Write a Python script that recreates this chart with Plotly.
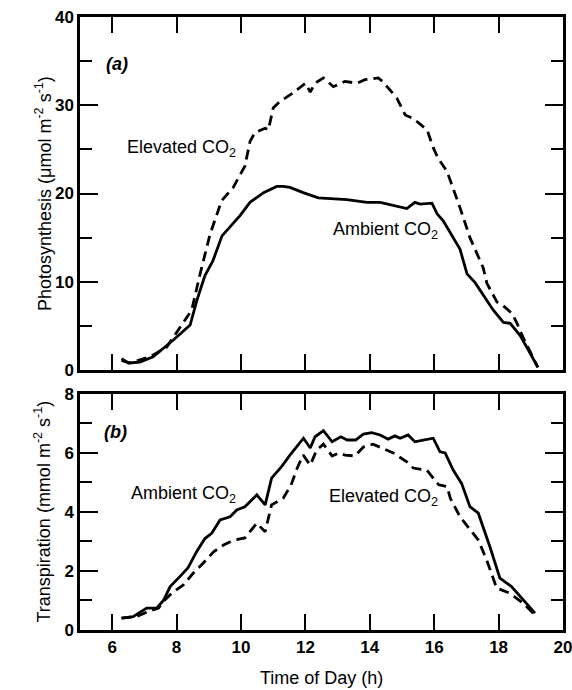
import plotly.graph_objects as go

# panel (a): photosynthesis, umol m-2 s-1
photo_amb_t = [6.29, 6.5, 6.86, 7.27, 7.9, 8.42, 8.63, 8.88, 9.13, 9.41, 9.97, 10.28,
               10.7, 11.11, 11.31, 11.52, 11.93, 12.4, 13.29, 13.91, 14.32, 15.15,
               15.4, 15.56, 15.93, 16.09, 16.28, 16.8, 17.02, 17.27, 17.83, 18.15,
               18.36, 18.67, 18.98, 19.22]
photo_amb = [1.3, 0.8, 0.9, 1.5, 3.4, 5.1, 7.9, 10.7, 12.4, 15.2, 17.5, 19.0,
             20.1, 20.8, 20.8, 20.7, 20.1, 19.5, 19.3, 19.0, 19.0, 18.3,
             19.0, 18.8, 18.9, 17.7, 16.9, 13.7, 10.9, 9.9, 6.8, 5.4,
             5.3, 3.9, 1.9, 0.3]

photo_elev_t = [6.29, 6.55, 7.17, 7.69, 8.47, 8.73, 9.04, 9.4, 9.76, 10.12, 10.28, 10.43,
                10.75, 10.85, 11.0, 11.2, 11.62, 12.0, 12.15, 12.3, 12.56, 12.87,
                13.23, 13.6, 13.85, 14.26, 14.4, 14.84, 15.1, 15.35, 15.78, 15.97,
                16.12, 16.4, 16.8, 17.11, 17.52, 17.64, 17.95, 18.14, 18.42, 18.57,
                18.76, 19.07, 19.22]
photo_elev = [1.1, 0.8, 1.5, 2.6, 6.8, 10.9, 15.4, 19.2, 20.7, 23.1, 25.9, 26.9,
              27.4, 27.2, 29.7, 30.4, 31.4, 32.5, 31.5, 32.5, 33.1, 32.1,
              32.7, 32.5, 32.9, 33.1, 32.7, 30.8, 28.9, 28.5, 27.2, 25.2,
              24.0, 22.5, 18.4, 15.0, 11.6, 9.8, 7.7, 7.3, 6.4, 5.3,
              3.7, 1.5, 0.3]

# panel (b): transpiration, mmol m-2 s-1
trans_amb_t = [6.29, 6.65, 7.07, 7.38, 7.59, 7.8, 8.1, 8.35, 8.62, 8.88, 9.09, 9.35,
               9.66, 9.87, 10.12, 10.49, 10.75, 10.95, 11.26, 11.52, 11.94, 12.15,
               12.3, 12.56, 12.83, 13.1, 13.3, 13.56, 13.8, 14.06, 14.32, 14.57,
               14.78, 14.94, 15.19, 15.4, 15.66, 15.97, 16.18, 16.34, 16.59, 16.85,
               17.11, 17.37, 17.73, 18.04, 18.4, 18.76, 19.13]
trans_amb = [0.40, 0.45, 0.74, 0.74, 1.0, 1.47, 1.81, 2.1, 2.65, 3.1, 3.28, 3.73,
             3.84, 4.07, 4.18, 4.58, 4.24, 5.15, 5.54, 5.93, 6.5, 6.17,
             6.55, 6.76, 6.38, 6.55, 6.44, 6.44, 6.64, 6.69, 6.61, 6.47,
             6.58, 6.5, 6.61, 6.38, 6.44, 6.5, 6.04, 6.0, 5.42, 4.97,
             4.18, 3.96, 2.82, 1.76, 1.47, 1.02, 0.57]

trans_elev_t = [6.29, 6.75, 7.11, 7.44, 7.58, 7.85, 8.21, 8.52, 8.83, 9.15, 9.46, 9.77,
                10.12, 10.49, 10.75, 10.95, 11.31, 11.55, 11.75, 11.93, 12.15, 12.35,
                12.56, 12.83, 13.04, 13.23, 13.54, 13.8, 14.1, 14.32, 14.73, 15.15,
                15.35, 15.77, 15.93, 16.14, 16.4, 16.5, 16.8, 17.11, 17.37, 17.63,
                17.94, 18.35, 18.76, 19.13]
trans_elev = [0.40, 0.45, 0.62, 0.74, 0.96, 1.25, 1.53, 1.93, 2.27, 2.65, 2.88, 3.05,
              3.12, 3.62, 3.33, 4.24, 4.47, 4.9, 5.5, 5.93, 5.59, 6.1,
              6.3, 5.9, 6.0, 5.93, 5.9, 6.2, 6.3, 6.2, 6.0, 5.7,
              5.49, 5.42, 5.2, 4.92, 4.86, 4.47, 3.84, 3.39, 3.05, 2.37,
              1.42, 1.25, 0.91, 0.51]

hour_ticks = [6, 8, 10, 12, 14, 16, 18, 20]

FONT = 'Liberation Sans, Arial, sans-serif'
solid = dict(color='black', width=2.8)
dashed = dict(color='black', width=2.8, dash='10px,6px')

fig = go.Figure()
fig.add_trace(go.Scatter(x=photo_elev_t, y=photo_elev, mode='lines', line=dashed,
                         xaxis='x', yaxis='y'))
fig.add_trace(go.Scatter(x=photo_amb_t, y=photo_amb, mode='lines', line=solid,
                         xaxis='x', yaxis='y'))
fig.add_trace(go.Scatter(x=trans_elev_t, y=trans_elev, mode='lines', line=dashed,
                         xaxis='x2', yaxis='y2'))
fig.add_trace(go.Scatter(x=trans_amb_t, y=trans_amb, mode='lines', line=solid,
                         xaxis='x2', yaxis='y2'))

tickfont = dict(family=FONT, size=17, color='black', weight='bold')
textfont = dict(family=FONT, size=18, color='black')
frame = dict(showline=True, linecolor='black', linewidth=2.5, mirror='ticks',
             ticks='inside', tickcolor='black', tickwidth=2, showgrid=False,
             zeroline=False, tickfont=tickfont, automargin=False,
             ticklabeloverflow='allow')

xaxis_common = dict(range=[5, 20], ticklen=16, **frame)

fig.update_layout(
    template='none',
    width=572, height=690,
    margin=dict(l=80, r=9, t=17, b=60),
    plot_bgcolor='white', paper_bgcolor='white',
    showlegend=False,
    xaxis=dict(domain=[0, 1], anchor='y', showticklabels=False,
               tickvals=hour_ticks[:-1], **xaxis_common),
    yaxis=dict(domain=[0.4241, 1], anchor='x', range=[0, 40], tickvals=[0, 10, 20, 30, 40],
               ticklen=18, minor=dict(dtick=5, ticklen=12, tickwidth=2, tickcolor='black',
                                      ticks='inside'),
               **frame),
    xaxis2=dict(domain=[0, 1], anchor='y2', tickvals=hour_ticks, **xaxis_common),
    yaxis2=dict(domain=[0, 0.385], anchor='x2', range=[0, 8], tickvals=[0, 2, 4, 6, 8],
                ticklen=18, minor=dict(dtick=1, ticklen=12, tickwidth=2, tickcolor='black',
                                       ticks='inside'),
                **frame),
)

# axis titles
fig.add_annotation(x=0, y=0.5, xref='paper', yref='y domain', xshift=-50, textangle=-90,
                   text='Photosynthesis (μmol m<sup>-2</sup> s<sup>-1</sup>)',
                   showarrow=False, font=textfont)
fig.add_annotation(x=0, y=0.5, xref='paper', yref='y2 domain', xshift=-50, textangle=-90,
                   text='Transpiration (mmol m<sup>-2</sup> s<sup>-1</sup>)',
                   showarrow=False, font=textfont)
fig.add_annotation(x=0.5, y=0, xref='paper', yref='paper', yshift=-48, yanchor='middle',
                   text='Time of Day (h)', showarrow=False, font=textfont)

labels = [
    ('x', 'y', 5.75, 34.7, '<b><i>(a)</i></b>', 'left'),
    ('x', 'y', 8.14, 25.1, 'Elevated CO<sub>2</sub>', 'center'),
    ('x', 'y', 14.5, 15.8, 'Ambient CO<sub>2</sub>', 'center'),
    ('x2', 'y2', 5.69, 6.71, '<b><i>(b)</i></b>', 'left'),
    ('x2', 'y2', 8.2, 4.58, 'Ambient CO<sub>2</sub>', 'center'),
    ('x2', 'y2', 14.44, 4.5, 'Elevated CO<sub>2</sub>', 'center'),
]
for xr, yr, x, y, text, anchor in labels:
    fig.add_annotation(x=x, y=y, xref=xr, yref=yr, text=text, showarrow=False,
                       xanchor=anchor, font=textfont)

# drop the browser's default 8px body margin so the figure fills the window
fig.write_html('out.html', config={'displayModeBar': False},
               post_script="document.body.style.margin='0';document.body.style.overflow='hidden';")
